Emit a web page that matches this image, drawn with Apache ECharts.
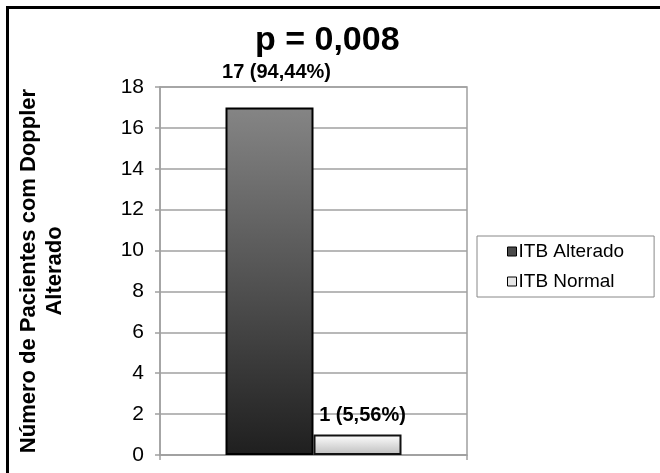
<!DOCTYPE html>
<html>
<head>
<meta charset="utf-8">
<script src="https://cdn.jsdelivr.net/npm/echarts@6/dist/echarts.min.js"></script>
<style>
  html, body { margin: 0; padding: 0; background: #fff; }
  #chart { width: 660px; height: 473px; }
</style>
</head>
<body>
<div id="chart"></div>
<script>
// Patients with altered Doppler, split by ankle-brachial index (ITB) result
const categories = [''];
const seriesNames = ['ITB Alterado', 'ITB Normal'];
const alteradoValues = [17];
const normalValues = [1];
const yTicks = { min: 0, max: 18, interval: 2 };
const titleText = 'p = 0,008';
const yAxisName = 'Número de Pacientes com Doppler\nAlterado';

const total = alteradoValues[0] + normalValues[0];
function pctLabel(v) {
  return v + ' (' + (v / total * 100).toFixed(2).replace('.', ',') + '%)';
}

const chart = echarts.init(document.getElementById('chart'));
const font = 'Liberation Sans, Arial, sans-serif';

chart.setOption({
  backgroundColor: '#fff',
  animation: false,
  title: {
    text: titleText,
    left: 250,
    top: 19,
    textStyle: { fontFamily: font, fontSize: 34, fontWeight: 'bold', color: '#000' }
  },
  legend: {
    orient: 'vertical',
    left: 477,
    top: 236,
    padding: [6, 30, 6, 30],
    itemGap: 11,
    itemWidth: 9,
    itemHeight: 9,
    borderColor: '#888',
    borderWidth: 1,
    textStyle: { fontFamily: font, fontSize: 19, color: '#000', lineHeight: 19, padding: [0, 0, 0, -3] },
    data: [
      { name: seriesNames[0], icon: 'rect', itemStyle: { color: '#4a4a4a', borderColor: '#000', borderWidth: 1 } },
      { name: seriesNames[1], icon: 'rect', itemStyle: { color: '#e6e6e6', borderColor: '#000', borderWidth: 1 } }
    ]
  },
  grid: {
    left: 160, right: 193, top: 87, bottom: 18,
    show: true, borderColor: '#a0a0a0', borderWidth: 1.5
  },
  xAxis: {
    type: 'category',
    data: categories,
    axisLine: { lineStyle: { color: '#a0a0a0', width: 1.5 } },
    axisTick: { show: true, length: 5, lineStyle: { color: '#a0a0a0', width: 1.5 } },
    axisLabel: { show: false }
  },
  yAxis: {
    type: 'value',
    min: yTicks.min, max: yTicks.max, interval: yTicks.interval,
    name: yAxisName,
    nameLocation: 'middle',
    nameRotate: 90,
    nameGap: 92,
    nameTextStyle: { fontFamily: font, fontSize: 22, fontWeight: 'bold', color: '#000', lineHeight: 26, align: 'center' },
    axisLine: { show: true, lineStyle: { color: '#a0a0a0', width: 1.5 } },
    axisTick: { show: true, length: 5, lineStyle: { color: '#a0a0a0', width: 1.5 } },
    axisLabel: { fontFamily: font, fontSize: 21, color: '#000', margin: 16 },
    splitLine: { lineStyle: { color: '#a0a0a0', width: 1.5 } }
  },
  series: [
    {
      name: seriesNames[0],
      type: 'bar',
      data: alteradoValues,
      barWidth: 88,
      barGap: '0%',
      itemStyle: {
        color: new echarts.graphic.LinearGradient(0, 0, 0, 1, [
          { offset: 0, color: '#858585' },
          { offset: 1, color: '#1f1f1f' }
        ]),
        borderColor: '#000',
        borderWidth: 2
      },
      label: {
        show: true,
        position: 'top',
        distance: 25,
        offset: [7, 0],
        formatter: p => pctLabel(p.value),
        fontFamily: font, fontSize: 20, fontWeight: 'bold', color: '#000'
      }
    },
    {
      name: seriesNames[1],
      type: 'bar',
      data: normalValues,
      barWidth: 88,
      itemStyle: {
        color: new echarts.graphic.LinearGradient(0, 0, 0, 1, [
          { offset: 0, color: '#ffffff' },
          { offset: 1, color: '#bdbdbd' }
        ]),
        borderColor: '#111',
        borderWidth: 2
      },
      label: {
        show: true,
        position: 'top',
        distance: 9,
        offset: [5, 0],
        formatter: p => pctLabel(p.value),
        fontFamily: font, fontSize: 20, fontWeight: 'bold', color: '#000'
      }
    }
  ],
  graphic: [
    // frame lines along the top and left edges
    { type: 'line', shape: { x1: 6, y1: 7.5, x2: 660, y2: 7.5 }, style: { stroke: '#000', lineWidth: 3 } },
    { type: 'line', shape: { x1: 7.5, y1: 6, x2: 7.5, y2: 473 }, style: { stroke: '#000', lineWidth: 3 } }
  ]
});
</script>
</body>
</html>
